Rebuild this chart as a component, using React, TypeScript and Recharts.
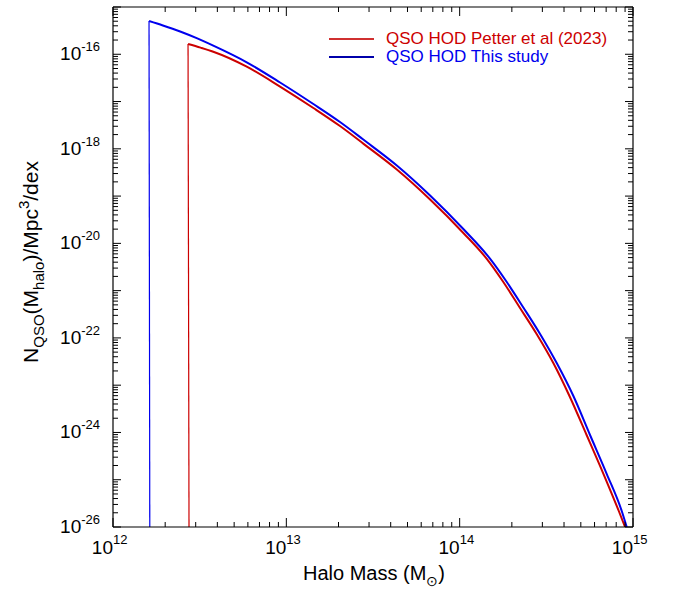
import React from "react";
import { LineChart, Line, XAxis, YAxis, Legend } from "recharts";

// Halo mass (Msun) and QSO HOD values (Mpc^-3 dex^-1)
const petterMass = [2.71e12, 3.2e12, 3.79e12, 5.91e12, 9.2e12, 1.432e13, 2.04e13, 2.78e13, 4.34e13, 6.75e13, 1.05e14, 1.43e14, 1.786e14, 2.22e14, 2.78e14, 3.47e14, 4.3e14, 5.4e14, 6.76e14, 8.28e14, 9.0e14];
const petterValue = [1.65e-16, 1.38e-16, 1.13e-16, 5.46e-17, 2.07e-17, 7.3e-18, 3.03e-18, 1.29e-18, 3.65e-19, 8.47e-20, 1.66e-20, 4.75e-21, 1.52e-21, 4.4e-22, 1.21e-22, 2.94e-23, 5.9e-24, 8.83e-25, 1.32e-25, 2.18e-26, 1.0e-26];
const studyMass = [1.614e12, 1.94e12, 2.44e12, 3.04e12, 3.79e12, 5.91e12, 9.2e12, 1.432e13, 2.04e13, 2.78e13, 4.34e13, 6.75e13, 1.05e14, 1.496e14, 1.87e14, 2.33e14, 2.91e14, 3.63e14, 4.53e14, 5.65e14, 7.06e14, 8.61e14, 9.2e14];
const studyValue = [5.06e-16, 4.07e-16, 3.03e-16, 2.19e-16, 1.52e-16, 6.76e-17, 2.53e-17, 8.87e-18, 3.69e-18, 1.57e-18, 4.44e-19, 1.03e-19, 2.01e-20, 4.75e-21, 1.52e-21, 4.4e-22, 1.21e-22, 2.94e-23, 5.9e-24, 8.83e-25, 1.32e-25, 2.18e-26, 1.0e-26];
// vertical low-mass cutoffs
const petterEdgeMass = [2.745e12, 2.71e12];
const petterEdgeValue = [1.0e-26, 1.65e-16];
const studyEdgeMass = [1.63e12, 1.614e12];
const studyEdgeValue = [1.0e-26, 5.06e-16];

const xDecades = [12, 13, 14, 15];
const yDecades = [-26, -25, -24, -23, -22, -21, -20, -19, -18, -17, -16, -15];
const yLabelled = [-26, -24, -22, -20, -18, -16];
const minorSteps = [1, 2, 3, 4, 5, 6, 7, 8, 9];

const RED = "#cc0000";
const BLUE = "#0000ee";
const FONT = "'Liberation Sans', Arial, Helvetica, sans-serif";

const toRows = (xs: number[], ys: number[]) => xs.map((m, i) => ({ m, v: ys[i] }));
const petterData = toRows(petterMass, petterValue);
const studyData = toRows(studyMass, studyValue);
const petterEdge = toRows(petterEdgeMass, petterEdgeValue);
const studyEdge = toRows(studyEdgeMass, studyEdgeValue);

const buildTicks = (decades: number[]) => {
  const out: number[] = [];
  decades.forEach((d, i) => {
    if (i === decades.length - 1) {
      out.push(Math.pow(10, d));
    } else {
      minorSteps.forEach((s) => out.push(s * Math.pow(10, d)));
    }
  });
  return out;
};
const xTicks = buildTicks(xDecades);
const yTicks = buildTicks(yDecades);

const isMajor = (v: number) => {
  const l = Math.log10(v);
  return Math.abs(l - Math.round(l)) < 1e-6;
};

const BottomTick = (p: any) => {
  const { x, y, payload } = p;
  const v = payload.value;
  const major = isMajor(v);
  const exp = Math.round(Math.log10(v));
  return (
    <g>
      <line x1={x} y1={y} x2={x} y2={y - (major ? 9 : 5)} stroke="#000" strokeWidth={1} />
      {major && (
        <text x={x} y={y + 27} textAnchor="end" fontSize={19} fontFamily={FONT} fill="#000">10</text>
      )}
      {major && (
        <text x={x} y={y + 17} textAnchor="start" fontSize={13} fontFamily={FONT} fill="#000">{exp}</text>
      )}
    </g>
  );
};

const TopTick = (p: any) => {
  const { x, y, payload } = p;
  const major = isMajor(payload.value);
  return <line x1={x} y1={y} x2={x} y2={y + (major ? 9 : 5)} stroke="#000" strokeWidth={1} />;
};

const LeftTick = (p: any) => {
  const { x, y, payload } = p;
  const v = payload.value;
  const major = isMajor(v);
  const exp = Math.round(Math.log10(v));
  const labelled = major && yLabelled.includes(exp);
  return (
    <g>
      <line x1={x} y1={y} x2={x + (major ? 8 : 5)} y2={y} stroke="#000" strokeWidth={1} />
      {labelled && (
        <text x={x - 13} y={y + 6} textAnchor="end" fontFamily={FONT} fill="#000">
          <tspan fontSize={19}>10</tspan>
          <tspan fontSize={13} dy={-9}>{String(exp)}</tspan>
        </text>
      )}
    </g>
  );
};

const RightTick = (p: any) => {
  const { x, y, payload } = p;
  const major = isMajor(payload.value);
  return <line x1={x} y1={y} x2={x - (major ? 8 : 5)} y2={y} stroke="#000" strokeWidth={1} />;
};

const LegendBox = () => (
  <div style={{ fontFamily: FONT, fontSize: 17, lineHeight: "18px", whiteSpace: "nowrap" }}>
    <div style={{ display: "flex", alignItems: "center", color: RED }}>
      <div style={{ width: 45, height: 1.5, background: "#d03030", marginRight: 12, flex: "none" }} />
      <span>QSO HOD Petter et al (2023)</span>
    </div>
    <div style={{ display: "flex", alignItems: "center", color: BLUE }}>
      <div style={{ width: 45, height: 1.5, background: "#0000aa", marginRight: 12, flex: "none" }} />
      <span>QSO HOD This study</span>
    </div>
  </div>
);

const XTitle = () => (
  <text x={374} y={580} textAnchor="middle" fontSize={20} fontFamily={FONT} fill="#000">
    Halo Mass (M<tspan fontSize={14} dy={6}>⊙</tspan><tspan dy={-6}>)</tspan>
  </text>
);

const YTitle = () => (
  <text transform="translate(38,262) rotate(-90)" x={0} y={0} textAnchor="middle" fontSize={21} fontFamily={FONT} fill="#000">
    N<tspan fontSize={15} dy={6}>QSO</tspan>
    <tspan dy={-6}>(M</tspan>
    <tspan fontSize={15} dy={6}>halo</tspan>
    <tspan dy={-6}>)/Mpc</tspan>
    <tspan fontSize={15} dy={-9}>3</tspan>
    <tspan dy={9}>/dex</tspan>
  </text>
);

export default function App() {
  return (
    <div style={{ position: "absolute", left: 0, top: 0, background: "#fff" }}>
      <LineChart width={675} height={590} margin={{ top: 0, right: 0, bottom: 0, left: 0 }}>
        <XAxis
          xAxisId="b"
          dataKey="m"
          type="number"
          scale="log"
          domain={[1e12, 1e15]}
          allowDataOverflow
          ticks={xTicks}
          interval={0}
          tickSize={0}
          tickMargin={0}
          tickLine={false}
          tick={<BottomTick />}
          axisLine={{ stroke: "#000", strokeWidth: 1.2 }}
          orientation="bottom"
          height={63}
          label={{ content: () => <XTitle /> }}
        />
        <XAxis
          xAxisId="t"
          dataKey="m"
          type="number"
          scale="log"
          domain={[1e12, 1e15]}
          allowDataOverflow
          ticks={xTicks}
          interval={0}
          tickSize={0}
          tickMargin={0}
          tickLine={false}
          tick={<TopTick />}
          axisLine={{ stroke: "#000", strokeWidth: 1.2 }}
          orientation="top"
          height={7}
        />
        <YAxis
          yAxisId="l"
          dataKey="v"
          type="number"
          scale="log"
          domain={[1e-26, 1e-15]}
          allowDataOverflow
          ticks={yTicks}
          interval={0}
          tickSize={0}
          tickMargin={0}
          tickLine={false}
          tick={<LeftTick />}
          axisLine={{ stroke: "#000", strokeWidth: 1.2 }}
          orientation="left"
          width={113}
          label={{ content: () => <YTitle /> }}
        />
        <YAxis
          yAxisId="r"
          dataKey="v"
          type="number"
          scale="log"
          domain={[1e-26, 1e-15]}
          allowDataOverflow
          ticks={yTicks}
          interval={0}
          tickSize={0}
          tickMargin={0}
          tickLine={false}
          tick={<RightTick />}
          axisLine={{ stroke: "#000", strokeWidth: 1.2 }}
          orientation="right"
          width={42}
        />
        <Legend
          layout="vertical"
          verticalAlign="middle"
          align="center"
          wrapperStyle={{ position: "absolute", left: 329, top: 30, width: 300 }}
          content={() => <LegendBox />}
        />
        <Line xAxisId="b" yAxisId="l" data={petterEdge} dataKey="v" type="linear" stroke={RED} strokeWidth={1.2} dot={false} isAnimationActive={false} legendType="none" />
        <Line xAxisId="b" yAxisId="l" data={studyEdge} dataKey="v" type="linear" stroke={BLUE} strokeWidth={1.2} dot={false} isAnimationActive={false} legendType="none" />
        <Line xAxisId="b" yAxisId="l" data={petterData} dataKey="v" name="QSO HOD Petter et al (2023)" type="monotoneX" stroke={RED} strokeWidth={2} dot={false} isAnimationActive={false} />
        <Line xAxisId="b" yAxisId="l" data={studyData} dataKey="v" name="QSO HOD This study" type="monotoneX" stroke={BLUE} strokeWidth={2} dot={false} isAnimationActive={false} />
      </LineChart>
    </div>
  );
}
